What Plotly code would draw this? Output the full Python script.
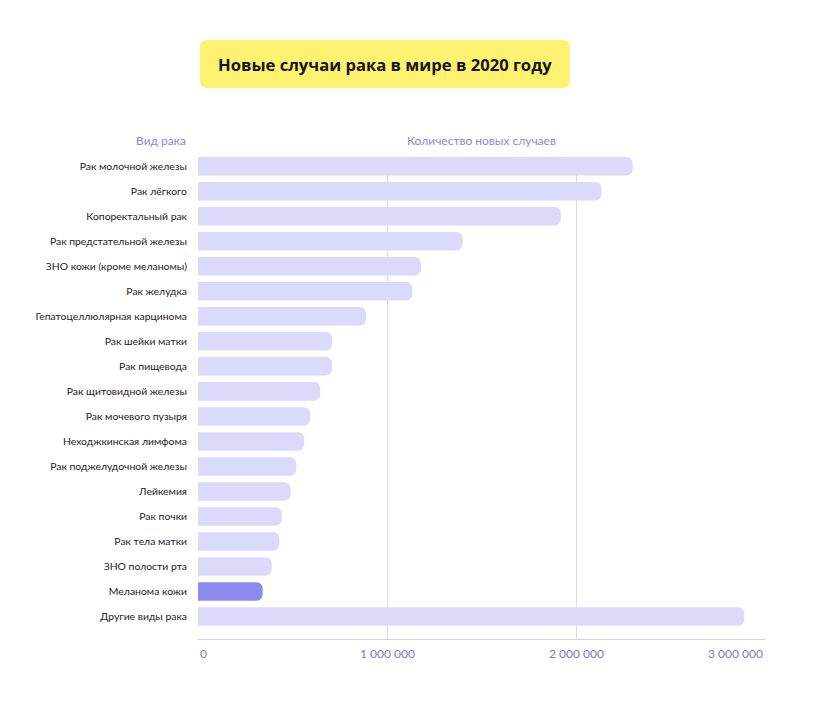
import plotly.graph_objects as go

categories = [
    "Рак молочной железы", "Рак лёгкого", "Копоректальный рак",
    "Рак предстательной железы", "ЗНО кожи (кроме меланомы)", "Рак желудка",
    "Гепатоцеллюлярная карцинома", "Рак шейки матки", "Рак пищевода",
    "Рак щитовидной железы", "Рак мочевого пузыря", "Неходжкинская лимфома",
    "Рак поджелудочной железы", "Лейкемия", "Рак почки", "Рак тела матки",
    "ЗНО полости рта", "Меланома кожи", "Другие виды рака",
]
values = [
    2300000, 2135000, 1920000, 1400000, 1180000, 1134000, 889000, 709000,
    709000, 647000, 593000, 562000, 520000, 490000, 443000, 430000, 390000,
    342000, 2890000,
]
highlight = "Меланома кожи"
tick_vals = [0, 1000000, 2000000, 3000000]
tick_text = ["0", "1 000 000", "2 000 000", "3 000 000"]
title_text = "Новые случаи рака в мире в 2020 году"
y_header = "Вид рака"
x_header = "Количество новых случаев"

FONT = "Lato"
TFONT = "Open Sans"
LIGHT = "#DCDAFA"
DARK = "#8E8BEE"
HEAD = "#8C88DA"

colors = [DARK if c == highlight else LIGHT for c in categories]

fig = go.Figure(go.Bar(
    x=values, y=categories, orientation="h",
    marker=dict(color=colors, cornerradius=6, line=dict(width=0)),
    width=0.74, hoverinfo="x+y",
))

W, H = 826, 710
L, R, T, B = 198, 61, 157, 71
pw, ph = W - L - R, H - T - B


def px_x(p):
    return (p - L) / pw


def px_y(p):
    return (H - B - p) / ph


annotations = []
for v, t, anc in zip(tick_vals, tick_text, ["left", "center", "center", "right"]):
    annotations.append(dict(
        x=v, y=px_y(653), xref="x", yref="paper", text=t, showarrow=False,
        xanchor=anc, yanchor="middle", font=dict(family=FONT, size=12, color="#7E7AC8"),
    ))
annotations.append(dict(
    x=px_x(188), y=px_y(141), xref="paper", yref="paper", text=y_header,
    showarrow=False, xanchor="right", yanchor="middle",
    font=dict(family=FONT, size=12, color=HEAD),
))
annotations.append(dict(
    x=0.5, y=px_y(141), xref="paper", yref="paper", text=x_header,
    showarrow=False, xanchor="center", yanchor="middle",
    font=dict(family=FONT, size=12, color=HEAD),
))
annotations.append(dict(
    x=px_x(385), y=px_y(64), xref="paper", yref="paper", text="<b>" + title_text + "</b>",
    showarrow=False, xanchor="center", yanchor="middle",
    font=dict(family=TFONT, size=16.6, color="#141414"),
))

# rounded yellow title box
x0, x1 = px_x(200), px_x(570)
y0, y1 = px_y(88), px_y(40)
rx, ry = 7 / pw, 7 / ph
path = (
    f"M {x0+rx},{y0} L {x1-rx},{y0} Q {x1},{y0} {x1},{y0+ry} "
    f"L {x1},{y1-ry} Q {x1},{y1} {x1-rx},{y1} L {x0+rx},{y1} "
    f"Q {x0},{y1} {x0},{y1-ry} L {x0},{y0+ry} Q {x0},{y0} {x0+rx},{y0} Z"
)
shapes = [dict(type="path", path=path, xref="paper", yref="paper",
               fillcolor="#FFF270", line=dict(width=0), layer="below")]

fig.update_layout(
    width=W, height=H, margin=dict(l=L, r=R, t=T, b=B),
    paper_bgcolor="white", plot_bgcolor="white",
    showlegend=False, font=dict(family=FONT),
    xaxis=dict(
        range=[0, 3000000], tickvals=[1000000, 2000000], showticklabels=False,
        showgrid=True, gridcolor="#DCDCDC", gridwidth=1, zeroline=False,
        showline=True, linecolor="#D4D4D4", linewidth=1, ticks="", fixedrange=True,
    ),
    yaxis=dict(
        categoryorder="array", categoryarray=categories,
        range=[18.9, -0.37], showgrid=False, zeroline=False, showline=False,
        ticks="", ticklabelstandoff=10,
        tickfont=dict(family=FONT, size=10.4, color="#1c1c1c"),
    ),
    annotations=annotations, shapes=shapes,
)

fig.write_html("out.html")
